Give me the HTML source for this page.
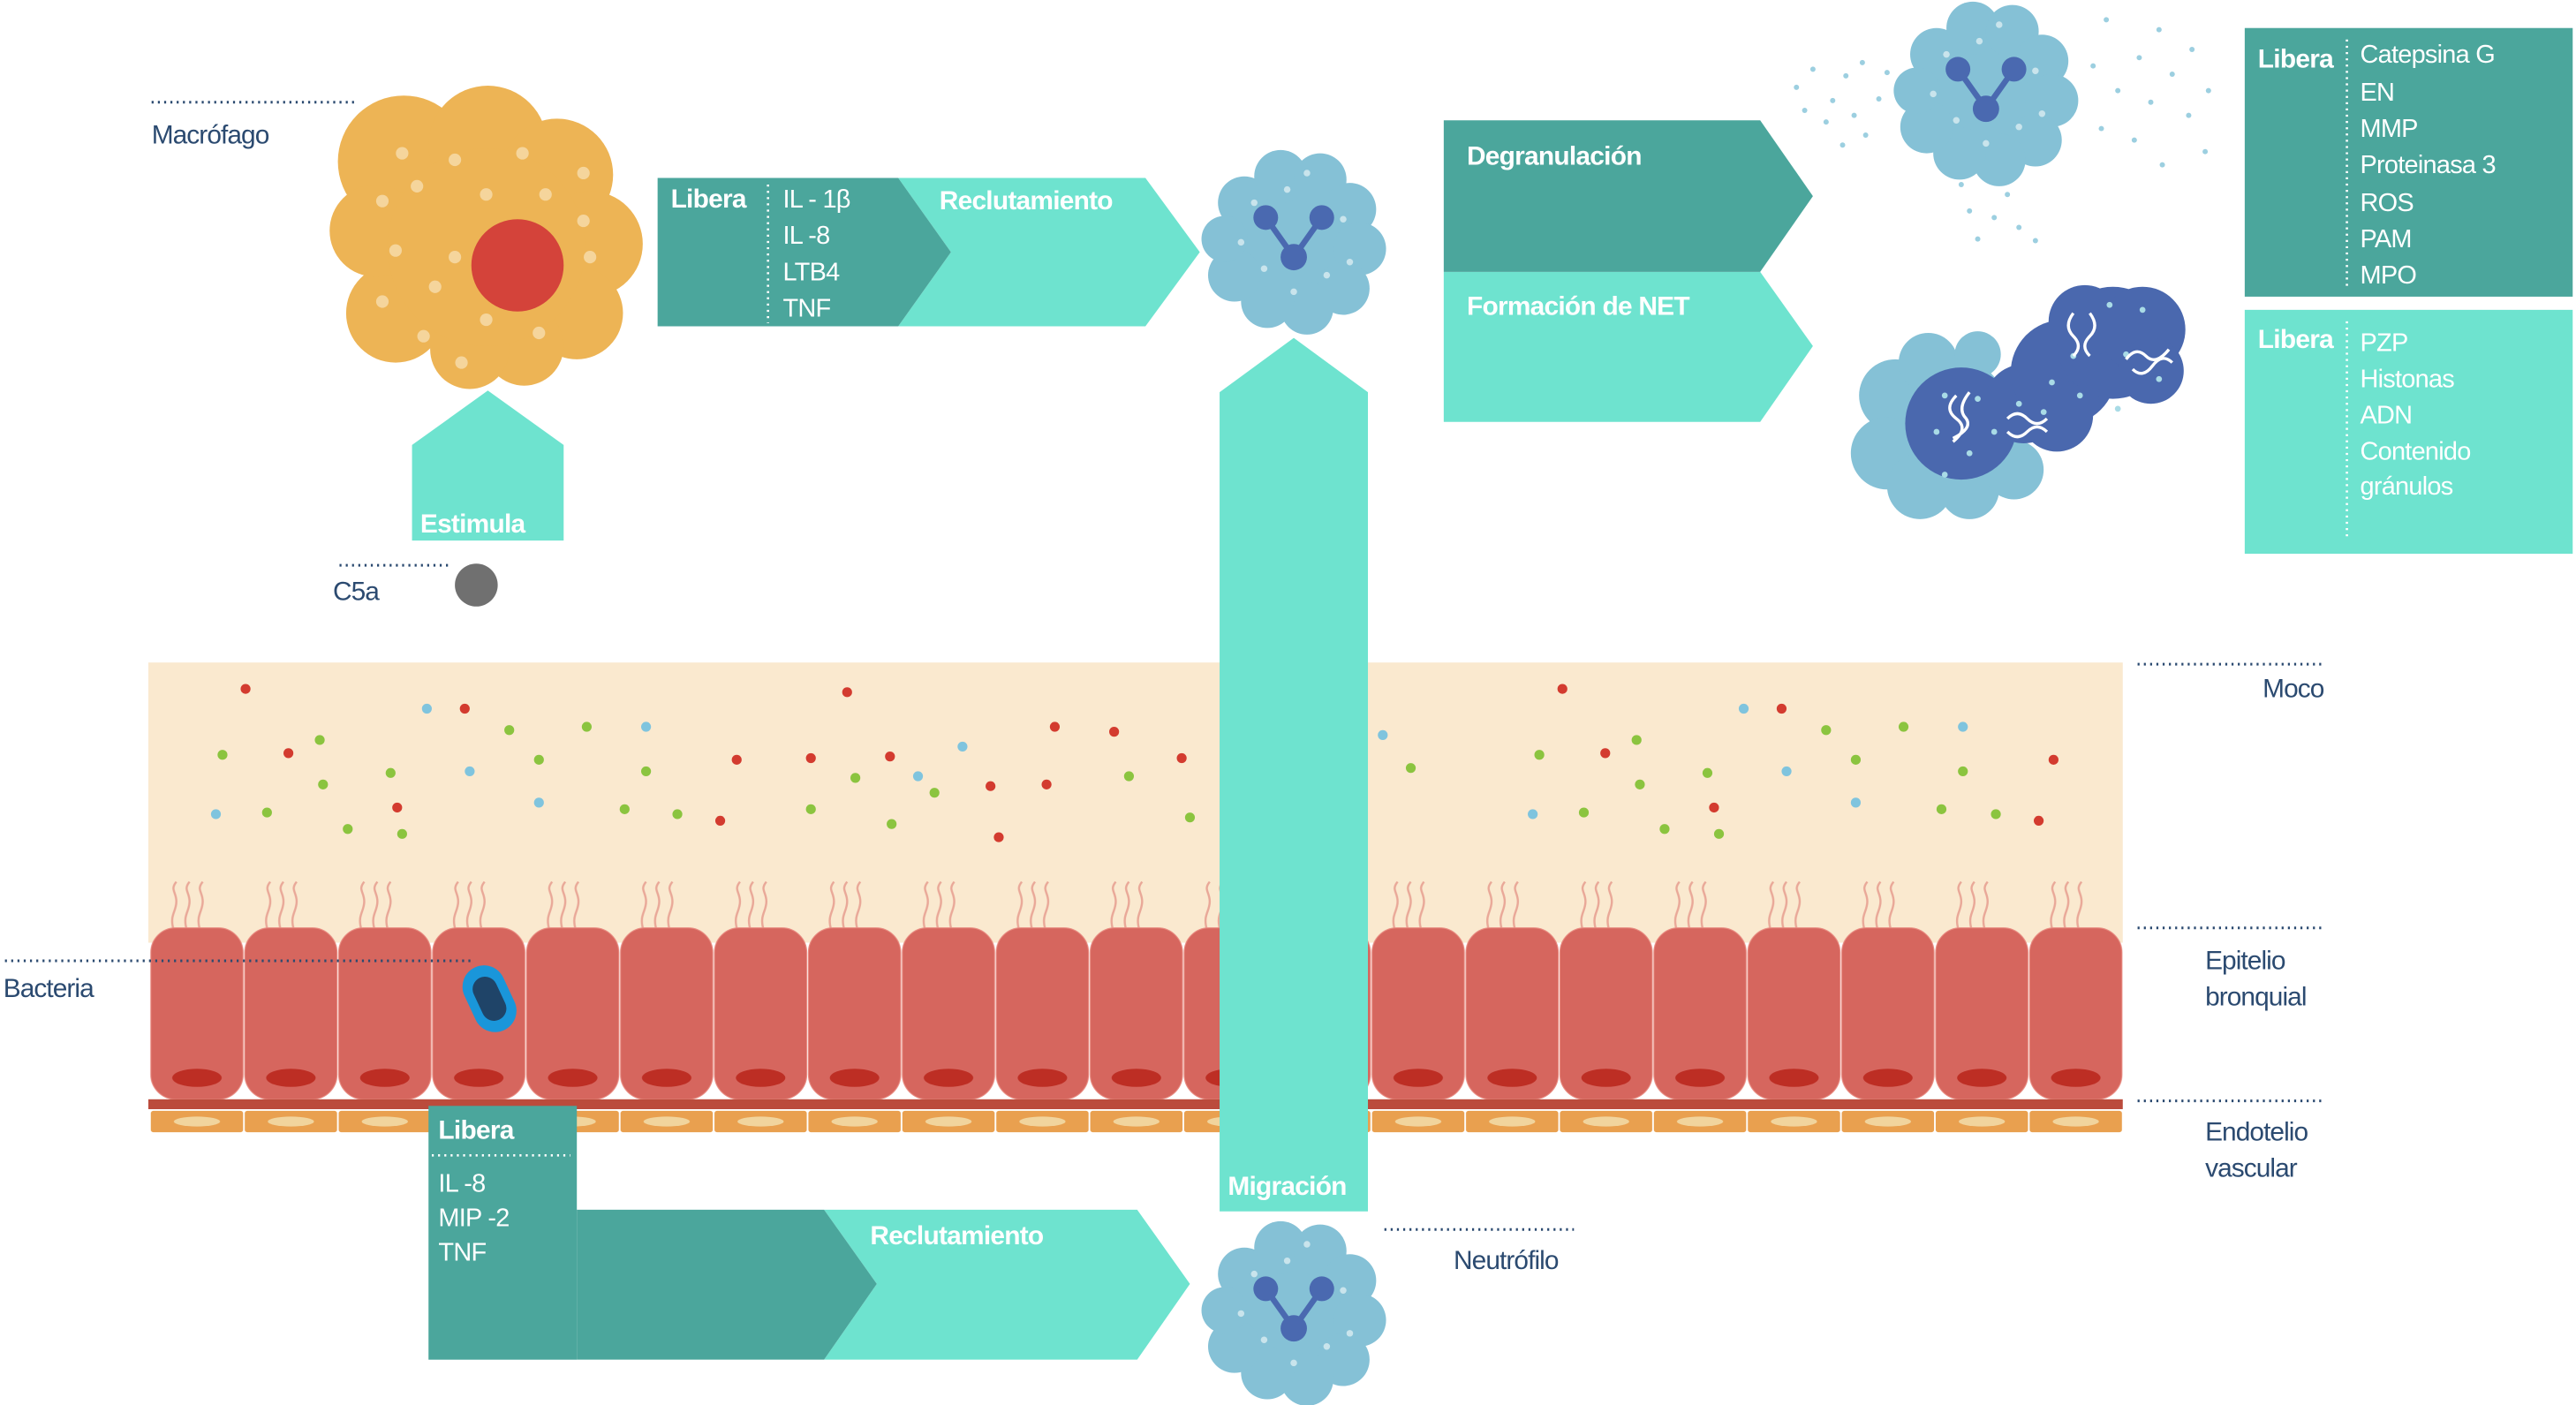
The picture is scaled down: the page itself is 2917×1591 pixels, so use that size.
<!DOCTYPE html>
<html><head><meta charset="utf-8"><style>
html,body{margin:0;padding:0;background:#fff}
svg{display:block}
text{font-family:"Liberation Sans",sans-serif}
.lb{fill:#2b4a70;font-size:16px;letter-spacing:-0.5px}
.w{fill:#fff;font-size:15.5px;letter-spacing:-0.4px}
.wb{fill:#fff;font-size:16px;font-weight:bold;letter-spacing:-0.4px}
.dl{stroke:#2b4a70;stroke-width:1.6;stroke-dasharray:1.2 2.6;fill:none}
.dw{stroke:#fff;stroke-width:1.4;stroke-dasharray:1.2 2.6;fill:none}
</style></head><body>
<svg width="2917" height="1591" viewBox="0 0 1563 852.5" xmlns="http://www.w3.org/2000/svg">
<defs>
<pattern id="cells" patternUnits="userSpaceOnUse" x="91" y="0" width="57" height="852.5">
 <g fill="none" stroke="#e9a898" stroke-width="1.3">
  <path d="M14 563 c-2-8 2-10 2-16 s-4-7 0-12"/>
  <path d="M22 563 c-2-8 2-10 2-16 s-4-7 0-12"/>
  <path d="M30 563 c-2-8 2-10 2-16 s-4-7 0-12"/>
 </g>
 <rect x="0.5" y="563" width="56" height="104" rx="15" fill="#d6665e" stroke="#e88a80" stroke-width="0.6"/>
 <ellipse cx="28.5" cy="654" rx="15" ry="5.5" fill="#bd2e24"/>
 <rect x="0.5" y="674" width="56" height="13" rx="1.5" fill="#e9a04f"/>
 <ellipse cx="28.5" cy="680.5" rx="14" ry="3" fill="#f1d49d"/>
</pattern>
<g id="neu">
 <g fill="#85c1d6">
  <circle cx="0" cy="0" r="40"/>
  <circle cx="-30" cy="-22" r="16"/><circle cx="-8" cy="-38" r="16"/><circle cx="16" cy="-36" r="16"/>
  <circle cx="34" cy="-18" r="16"/><circle cx="40" cy="6" r="16"/><circle cx="30" cy="30" r="16"/>
  <circle cx="8" cy="42" r="16"/><circle cx="-16" cy="38" r="16"/><circle cx="-36" cy="22" r="16"/>
  <circle cx="-42" cy="0" r="14"/>
 </g>
 <g fill="#c9e4ec">
  <circle cx="-24" cy="-22" r="2"/><circle cx="8" cy="-40" r="2"/><circle cx="30" cy="-12" r="2"/>
  <circle cx="-32" cy="2" r="2"/><circle cx="-18" cy="18" r="2"/><circle cx="20" cy="22" r="2"/>
  <circle cx="0" cy="32" r="2"/><circle cx="34" cy="14" r="2"/><circle cx="-4" cy="-30" r="2"/>
 </g>
 <path d="M-17 -13 L0 11 L17 -13" stroke="#4a69b0" stroke-width="3.5" fill="none"/>
 <circle cx="-17" cy="-13" r="7.5" fill="#4a69b0"/><circle cx="17" cy="-13" r="7.5" fill="#4a69b0"/><circle cx="0" cy="11" r="8" fill="#4a69b0"/>
</g>
</defs>

<!-- Macrófago -->
<line x1="92" y1="62" x2="216" y2="62" class="dl"/>
<text x="92" y="87" class="lb">Macrófago</text>
<g fill="#edb455">
 <circle cx="245" cy="98" r="40"/><circle cx="296" cy="88" r="36"/><circle cx="338" cy="106" r="34"/>
 <circle cx="358" cy="148" r="32"/><circle cx="350" cy="190" r="28"/><circle cx="318" cy="210" r="24"/>
 <circle cx="285" cy="212" r="24"/><circle cx="240" cy="190" r="30"/><circle cx="228" cy="140" r="28"/><circle cx="295" cy="150" r="60"/>
</g>
<circle cx="314" cy="161" r="28" fill="#d4433a"/>
<g fill="#f5d59c">
 <circle cx="244" cy="93" r="3.8"/><circle cx="276" cy="97" r="3.8"/><circle cx="317" cy="93" r="3.8"/><circle cx="354" cy="105" r="3.8"/>
 <circle cx="253" cy="113" r="3.8"/><circle cx="295" cy="118" r="3.8"/><circle cx="331" cy="118" r="3.8"/><circle cx="232" cy="122" r="3.8"/>
 <circle cx="354" cy="134" r="3.8"/><circle cx="240" cy="152" r="3.8"/><circle cx="276" cy="156" r="3.8"/><circle cx="358" cy="156" r="3.8"/>
 <circle cx="264" cy="174" r="3.8"/><circle cx="232" cy="183" r="3.8"/><circle cx="295" cy="194" r="3.8"/><circle cx="327" cy="202" r="3.8"/>
 <circle cx="257" cy="204" r="3.8"/><circle cx="280" cy="220" r="3.8"/>
</g>

<!-- Estimula -->
<polygon points="250,270 296,237 342,270 342,328 250,328" fill="#6ee3cf"/>
<text x="255" y="323" class="wb">Estimula</text>
<line x1="206" y1="343" x2="274" y2="343" class="dl"/>
<text x="202" y="364" class="lb">C5a</text>
<circle cx="289" cy="355" r="13" fill="#707070"/>

<!-- top Libera arrow -->
<polygon points="545,108 695,108 728,153 695,198 545,198 577,153" fill="#6ee3cf"/>
<polygon points="399,108 545,108 577,153 545,198 399,198" fill="#4ba69c"/>
<text x="407" y="126" class="wb">Libera</text>
<line x1="466" y1="112" x2="466" y2="196" class="dw"/>
<text x="475" y="126" class="w">IL - 1β</text>
<text x="475" y="148" class="w">IL -8</text>
<text x="475" y="170" class="w">LTB4</text>
<text x="475" y="192" class="w">TNF</text>
<text x="570" y="127" class="wb">Reclutamiento</text>

<use href="#neu" x="785" y="145"/>

<!-- Mucus -->
<rect x="90" y="402" width="1198" height="170" fill="#fae9cf"/>
<g>
<g fill="#d33b2f">
<circle cx="149" cy="418" r="3"/><circle cx="282" cy="430" r="3"/><circle cx="175" cy="457" r="3"/><circle cx="241" cy="490" r="3"/>
<circle cx="514" cy="420" r="3"/><circle cx="447" cy="461" r="3"/><circle cx="492" cy="460" r="3"/><circle cx="540" cy="459" r="3"/>
<circle cx="601" cy="477" r="3"/><circle cx="640" cy="441" r="3"/><circle cx="676" cy="444" r="3"/><circle cx="717" cy="460" r="3"/>
<circle cx="635" cy="476" r="3"/><circle cx="437" cy="498" r="3"/><circle cx="606" cy="508" r="3"/>
<circle cx="948" cy="418" r="3"/><circle cx="1081" cy="430" r="3"/><circle cx="974" cy="457" r="3"/><circle cx="1040" cy="490" r="3"/>
<circle cx="1246" cy="461" r="3"/><circle cx="1237" cy="498" r="3"/>
</g>
<g fill="#8bc43f">
<circle cx="135" cy="458" r="3"/><circle cx="194" cy="449" r="3"/><circle cx="196" cy="476" r="3"/><circle cx="237" cy="469" r="3"/>
<circle cx="162" cy="493" r="3"/><circle cx="211" cy="503" r="3"/><circle cx="244" cy="506" r="3"/><circle cx="309" cy="443" r="3"/>
<circle cx="356" cy="441" r="3"/><circle cx="327" cy="461" r="3"/><circle cx="392" cy="468" r="3"/><circle cx="379" cy="491" r="3"/>
<circle cx="411" cy="494" r="3"/><circle cx="492" cy="491" r="3"/><circle cx="519" cy="472" r="3"/><circle cx="541" cy="500" r="3"/>
<circle cx="567" cy="481" r="3"/><circle cx="685" cy="471" r="3"/><circle cx="722" cy="496" r="3"/><circle cx="856" cy="466" r="3"/>
<circle cx="934" cy="458" r="3"/><circle cx="993" cy="449" r="3"/><circle cx="995" cy="476" r="3"/><circle cx="1036" cy="469" r="3"/>
<circle cx="961" cy="493" r="3"/><circle cx="1010" cy="503" r="3"/><circle cx="1043" cy="506" r="3"/><circle cx="1108" cy="443" r="3"/>
<circle cx="1155" cy="441" r="3"/><circle cx="1126" cy="461" r="3"/><circle cx="1191" cy="468" r="3"/><circle cx="1178" cy="491" r="3"/><circle cx="1211" cy="494" r="3"/>
</g>
<g fill="#7fc4de">
<circle cx="259" cy="430" r="3"/><circle cx="285" cy="468" r="3"/><circle cx="131" cy="494" r="3"/><circle cx="392" cy="441" r="3"/>
<circle cx="327" cy="487" r="3"/><circle cx="584" cy="453" r="3"/><circle cx="557" cy="471" r="3"/><circle cx="839" cy="446" r="3"/>
<circle cx="1058" cy="430" r="3"/><circle cx="1084" cy="468" r="3"/><circle cx="930" cy="494" r="3"/><circle cx="1191" cy="441" r="3"/><circle cx="1126" cy="487" r="3"/>
</g>
</g>
<!-- cells -->
<rect x="91" y="530" width="1197" height="160" fill="url(#cells)"/>
<rect x="90" y="667" width="1198" height="6" fill="#bb4b3c"/>

<!-- Bacteria -->
<line x1="3" y1="583" x2="286" y2="583" class="dl"/>
<text x="2" y="605" class="lb">Bacteria</text>
<g transform="translate(297,606) rotate(-25)">
 <rect x="-13" y="-21" width="26" height="42" rx="13" fill="#1a96da"/>
 <rect x="-7.5" y="-14" width="15" height="28" rx="7.5" fill="#1f4468"/>
</g>

<!-- right labels -->
<line x1="1297" y1="403" x2="1410" y2="403" class="dl"/>
<text x="1410" y="423" text-anchor="end" class="lb">Moco</text>
<line x1="1297" y1="563" x2="1410" y2="563" class="dl"/>
<text x="1338" y="588" class="lb">Epitelio</text>
<text x="1338" y="610" class="lb">bronquial</text>
<line x1="1297" y1="668" x2="1410" y2="668" class="dl"/>
<text x="1338" y="692" class="lb">Endotelio</text>
<text x="1338" y="714" class="lb">vascular</text>

<!-- Migración -->
<polygon points="740,238 785,205 830,238 830,735 740,735" fill="#6ee3cf"/>
<text x="745" y="725" class="wb">Migración</text>

<!-- bottom Libera -->
<polygon points="500,734 690,734 722,779 690,825 500,825 532,779" fill="#6ee3cf"/>
<polygon points="350,734 500,734 532,779 500,825 350,825" fill="#4ba69c"/>
<rect x="260" y="671" width="90" height="154" fill="#4ba69c"/>
<text x="266" y="691" class="wb">Libera</text>
<line x1="262" y1="701" x2="346" y2="701" class="dw"/>
<text x="266" y="723" class="w">IL -8</text>
<text x="266" y="744" class="w">MIP -2</text>
<text x="266" y="765" class="w">TNF</text>
<text x="528" y="755" class="wb">Reclutamiento</text>

<use href="#neu" x="785" y="795"/>
<line x1="840" y1="746" x2="955" y2="746" class="dl"/>
<text x="882" y="770" class="lb">Neutrófilo</text>

<!-- Degranulación / NET -->
<polygon points="876,165 1068,165 1100,210 1068,256 876,256" fill="#6ee3cf"/>
<polygon points="876,73 1068,73 1100,119 1068,165 876,165" fill="#4ba69c"/>
<text x="890" y="100" class="wb">Degranulación</text>
<text x="890" y="191" class="wb">Formación de NET</text>

<!-- top-right neutrophil with granules -->
<g fill="#9ccfe0">
<circle cx="1090" cy="53" r="1.6"/><circle cx="1100" cy="42" r="1.6"/><circle cx="1112" cy="61" r="1.6"/><circle cx="1120" cy="46" r="1.6"/>
<circle cx="1130" cy="38" r="1.6"/><circle cx="1095" cy="67" r="1.6"/><circle cx="1108" cy="74" r="1.6"/><circle cx="1125" cy="70" r="1.6"/>
<circle cx="1140" cy="60" r="1.6"/><circle cx="1132" cy="82" r="1.6"/><circle cx="1145" cy="44" r="1.6"/><circle cx="1118" cy="88" r="1.6"/>
<circle cx="1270" cy="40" r="1.6"/><circle cx="1285" cy="55" r="1.6"/><circle cx="1298" cy="35" r="1.6"/><circle cx="1305" cy="62" r="1.6"/>
<circle cx="1318" cy="45" r="1.6"/><circle cx="1330" cy="30" r="1.6"/><circle cx="1328" cy="70" r="1.6"/><circle cx="1340" cy="55" r="1.6"/>
<circle cx="1275" cy="78" r="1.6"/><circle cx="1295" cy="85" r="1.6"/><circle cx="1312" cy="100" r="1.6"/><circle cx="1338" cy="92" r="1.6"/>
<circle cx="1278" cy="12" r="1.6"/><circle cx="1310" cy="18" r="1.6"/>
<circle cx="1190" cy="112" r="1.6"/><circle cx="1205" cy="108" r="1.6"/><circle cx="1218" cy="118" r="1.6"/><circle cx="1195" cy="128" r="1.6"/>
<circle cx="1210" cy="132" r="1.6"/><circle cx="1225" cy="138" r="1.6"/><circle cx="1200" cy="145" r="1.6"/><circle cx="1235" cy="146" r="1.6"/>
</g>
<use href="#neu" x="1205" y="55"/>

<!-- NET -->
<g fill="#85c1d6">
 <circle cx="1180" cy="255" r="40"/><circle cx="1150" cy="240" r="22"/><circle cx="1145" cy="275" r="22"/><circle cx="1165" cy="295" r="20"/>
 <circle cx="1195" cy="297" r="18"/><circle cx="1222" cy="285" r="18"/><circle cx="1170" cy="220" r="18"/><circle cx="1200" cy="215" r="14"/>
</g>
<g fill="#4a68ae">
 <circle cx="1190" cy="257" r="34"/>
 <circle cx="1228" cy="245" r="24"/><circle cx="1252" cy="226" r="32"/><circle cx="1282" cy="208" r="34"/>
 <circle cx="1300" cy="200" r="26"/><circle cx="1305" cy="225" r="20"/><circle cx="1248" cy="252" r="22"/><circle cx="1265" cy="195" r="22"/>
</g>
<g fill="#a9dbe6">
 <circle cx="1180" cy="240" r="1.8"/><circle cx="1200" cy="242" r="1.8"/><circle cx="1175" cy="262" r="1.8"/><circle cx="1195" cy="275" r="1.8"/>
 <circle cx="1210" cy="262" r="1.8"/><circle cx="1180" cy="288" r="1.8"/><circle cx="1225" cy="245" r="1.8"/><circle cx="1240" cy="250" r="1.8"/>
 <circle cx="1245" cy="232" r="1.8"/><circle cx="1262" cy="240" r="1.8"/><circle cx="1258" cy="216" r="1.8"/><circle cx="1290" cy="215" r="1.8"/>
 <circle cx="1300" cy="188" r="1.8"/><circle cx="1280" cy="185" r="1.8"/><circle cx="1310" cy="230" r="1.8"/><circle cx="1285" cy="248" r="1.8"/>
</g>
<g stroke="#fff" stroke-width="1.8" fill="none">
 <path d="M1187 240 q-8 8 0 14 q8 6 -2 14"/><path d="M1195 238 q-8 10 -2 16 q4 6 -8 12"/>
 <path d="M1218 254 q6 -6 12 0 q6 6 12 0"/><path d="M1218 262 q6 6 12 0 q6 -6 12 0"/>
 <path d="M1258 190 q-6 8 0 14 q6 6 0 12"/><path d="M1268 190 q6 8 0 14 q-6 6 0 12"/>
 <path d="M1290 218 q6 -8 12 -2 q6 6 14 -4"/><path d="M1294 224 q6 6 12 -2 q6 -8 12 -2"/>
</g>

<!-- right boxes -->
<rect x="1362" y="17" width="199" height="163" fill="#4ba69c"/>
<text x="1370" y="41" class="wb">Libera</text>
<line x1="1424" y1="24" x2="1424" y2="176" class="dw"/>
<text x="1432" y="38" class="w">Catepsina G</text>
<text x="1432" y="61" class="w">EN</text>
<text x="1432" y="83" class="w">MMP</text>
<text x="1432" y="105" class="w">Proteinasa 3</text>
<text x="1432" y="128" class="w">ROS</text>
<text x="1432" y="150" class="w">PAM</text>
<text x="1432" y="172" class="w">MPO</text>

<rect x="1362" y="188" width="199" height="148" fill="#6ee3cf"/>
<text x="1370" y="211" class="wb">Libera</text>
<line x1="1424" y1="195" x2="1424" y2="328" class="dw"/>
<text x="1432" y="213" class="w">PZP</text>
<text x="1432" y="235" class="w">Histonas</text>
<text x="1432" y="257" class="w">ADN</text>
<text x="1432" y="279" class="w">Contenido</text>
<text x="1432" y="300" class="w">gránulos</text>
</svg>
</body></html>
